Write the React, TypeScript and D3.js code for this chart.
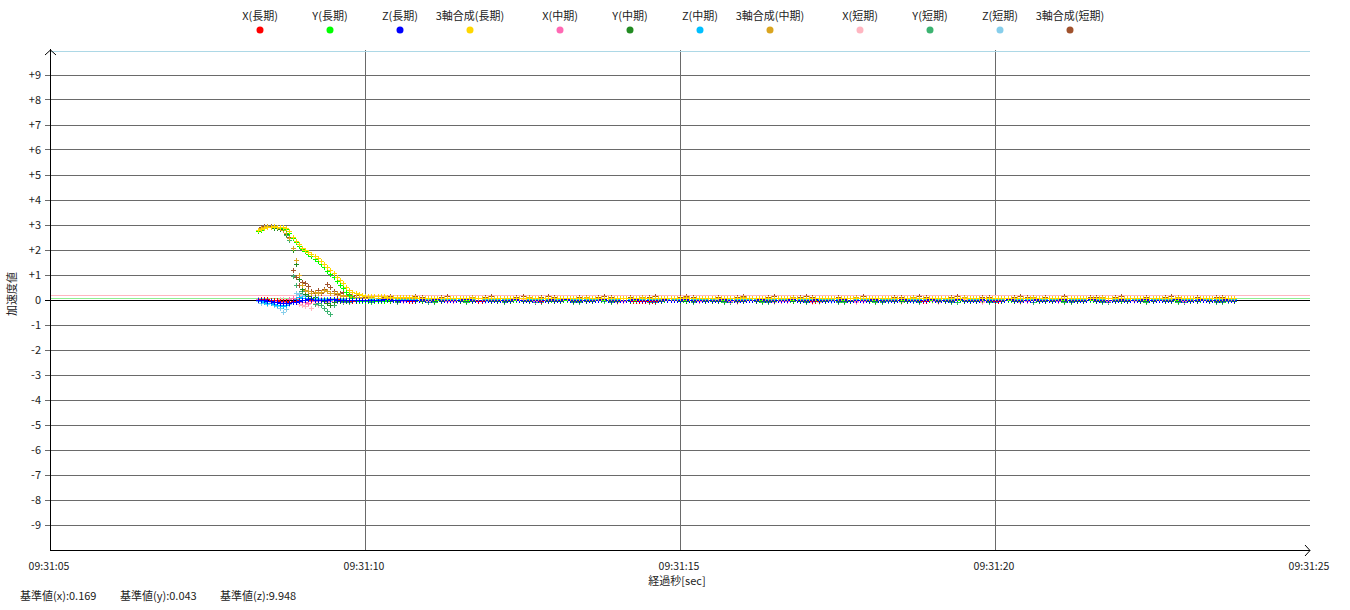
import React from 'react';
import * as d3 from 'd3';

const useD3 = (renderChart: any, dependencies: any[]) => {
  const ref = React.useRef<SVGSVGElement>(null);

  React.useEffect(() => {
    renderChart(d3.select(ref.current));
  }, dependencies);

  return ref;
};

const legendLabels = [
  'X(長期)', 'Y(長期)', 'Z(長期)', '3軸合成(長期)',
  'X(中期)', 'Y(中期)', 'Z(中期)', '3軸合成(中期)',
  'X(短期)', 'Y(短期)', 'Z(短期)', '3軸合成(短期)',
];
const seriesColors = [
  '#ff0000', '#00ff00', '#0000ff', '#ffd700',
  '#ff69b4', '#228b22', '#00bfff', '#daa520',
  '#ffb6c1', '#3cb371', '#87ceeb', '#a0522d',
];
const baseLabels = ['基準値(x)', '基準値(y)', '基準値(z)'];
const baseValues = [0.169, 0.043, 9.948];
const baseColors = ['#ffb6c1', '#90ee90', '#add8e6'];
const yTickValues = [9, 8, 7, 6, 5, 4, 3, 2, 1, 0, -1, -2, -3, -4, -5, -6, -7, -8, -9];

// seconds after 09:31:00
const headStart = 8.3;
const headStep = 0.05;
// long-term records are logged twice as often
const longTailStart = 10.05;
const longTailStep = 0.05;
const tailStart = 10.1;
const tailStep = 0.1;

// first part (onset), values in m/s2
const xLongHead = [0.02, 0.03, 0.04, 0.03, 0.02, 0.01, 0.00, -0.02, -0.04, -0.05, -0.06, -0.05, -0.03, -0.01, 0.01, 0.02, 0.03, 0.02, 0.01, 0.00, -0.01, 0.00, 0.02, 0.03, 0.04, 0.03, 0.02, 0.01, 0.00, -0.01, -0.02, -0.01, 0.00, 0.01, 0.00];
const yLongHead = [2.76, 2.82, 2.88, 2.91, 2.91, 2.92, 2.91, 2.91, 2.90, 2.85, 2.70, 2.48, 2.33, 2.18, 2.04, 1.96, 1.86, 1.76, 1.66, 1.57, 1.45, 1.32, 1.18, 1.05, 0.92, 0.78, 0.62, 0.48, 0.33, 0.20, 0.08, 0.02, -0.02, -0.03, -0.03];
const zLongHead = [0.02, 0.01, 0.00, -0.02, -0.04, -0.06, -0.08, -0.10, -0.11, -0.12, -0.11, -0.09, -0.06, -0.03, 0.00, 0.02, 0.03, 0.03, 0.02, 0.02, 0.01, 0.01, 0.02, 0.03, 0.03, 0.02, 0.02, 0.01, 0.01, 0.00, 0.00, 0.01, 0.01, 0.00, 0.00];
const cLongHead = [2.78, 2.84, 2.90, 2.93, 2.93, 2.94, 2.93, 2.93, 2.92, 2.88, 2.75, 2.52, 2.38, 2.25, 2.10, 2.02, 1.93, 1.86, 1.78, 1.70, 1.58, 1.45, 1.32, 1.20, 1.07, 0.93, 0.80, 0.66, 0.54, 0.42, 0.34, 0.27, 0.23, 0.20, 0.18];
const xMidHead = [0.03, 0.02, 0.05, 0.04, 0.00, -0.03, -0.05, -0.04, -0.06, -0.02, 0.04, 0.08, 0.05, -0.02, -0.06, -0.08, -0.10, -0.05, -0.02, 0.03, 0.06, 0.02, -0.04, -0.02, 0.03, 0.05, 0.01, -0.02, 0.00, 0.02, 0.01, 0.00, -0.01, 0.01, 0.00];
const yMidHead = [2.78, 2.86, 2.91, 2.92, 2.91, 2.90, 2.89, 2.86, 2.78, 2.65, 2.48, 2.00, 1.45, 0.85, 0.45, 0.25, 0.18, 0.10, 0.12, 0.05, 0.02, -0.05, -0.12, -0.20, -0.08, 0.02, -0.04, 0.00, -0.02, -0.03, 0.00, -0.02, -0.01, 0.00, -0.01];
const zMidHead = [0.00, -0.03, -0.06, -0.10, -0.12, -0.15, -0.18, -0.20, -0.22, -0.18, -0.12, -0.05, 0.05, 0.12, 0.10, 0.08, 0.05, 0.06, 0.03, 0.04, 0.02, 0.05, 0.03, 0.02, 0.04, 0.02, 0.01, 0.03, 0.02, 0.01, 0.01, 0.02, 0.00, 0.01, 0.00];
const cMidHead = [2.80, 2.88, 2.93, 2.94, 2.93, 2.92, 2.91, 2.89, 2.82, 2.70, 2.50, 2.10, 1.60, 1.00, 0.62, 0.42, 0.38, 0.30, 0.34, 0.28, 0.32, 0.40, 0.36, 0.30, 0.26, 0.30, 0.22, 0.18, 0.20, 0.15, 0.14, 0.12, 0.12, 0.10, 0.10];
const xShortHead = [0.05, 0.02, -0.02, -0.05, -0.08, -0.04, 0.00, 0.06, 0.03, -0.05, -0.10, -0.02, 0.08, -0.15, -0.20, -0.25, -0.15, -0.30, -0.10, -0.18, -0.05, 0.02, -0.08, 0.05, 0.00, -0.04, 0.03, -0.02, 0.01, -0.03, 0.02, 0.00, -0.02, 0.01, 0.00];
const yShortHead = [2.80, 2.90, 2.94, 2.93, 2.92, 2.91, 2.90, 2.88, 2.82, 2.62, 2.40, 0.95, 0.60, 0.30, 0.35, 0.20, 0.05, -0.05, -0.15, -0.10, -0.20, -0.30, -0.45, -0.56, -0.20, -0.05, 0.02, -0.06, 0.00, -0.08, -0.03, -0.02, 0.00, -0.04, -0.02];
const zShortHead = [-0.05, -0.12, -0.08, -0.15, -0.10, -0.20, -0.25, -0.30, -0.48, -0.35, -0.15, 0.10, 0.30, 0.25, 0.15, 0.20, 0.05, 0.10, 0.02, 0.08, 0.04, 0.00, 0.06, 0.02, 0.05, 0.01, 0.03, 0.00, 0.02, 0.01, 0.00, 0.02, 0.01, 0.00, 0.01];
const cShortHead = [2.82, 2.92, 2.96, 2.95, 2.94, 2.93, 2.92, 2.90, 2.85, 2.70, 2.52, 1.20, 0.93, 0.62, 0.72, 0.67, 0.55, 0.35, 0.28, 0.40, 0.30, 0.45, 0.63, 0.52, 0.38, 0.25, 0.30, 0.33, 0.18, 0.25, 0.15, 0.20, 0.12, 0.10, 0.12];

// rest of the record, values in 1/100 m/s2
const xLongTail = [
  -2, -2, -1, -1, -1, 0, 0, 0, 1, 0, 0, -1, -1, -2, -2, -1, -1, 0, 0, 1,
  1, 1, 0, 0, -1, -1, -1, 0, 0, 1, 1, 0, 0, -1, -1, -2, -2, -1, 0, 0,
  1, 1, 1, 0, 0, -1, -1, 0, 0, 1, 1, 0, 0, -1, -1, -2, -1, -1, 0, 0,
  1, 0, 0, 0, -1, -1, 0, 0, 1, 1, 1, 0, 0, -1, -1, -1, 0, 0, 1, 1,
  0, 0, -1, -1, -2, -3, -3, -4, -4, -3, -3, -2, -1, 0, 0, 1, 1, 0, 0, -1,
  -1, 0, 0, 1, 1, 1, 0, 0, -1, -1, 0, 0, 1, 1, 0, 0, -1, -1, -1, 0,
  0, 1, 1, 0, 0, -1, -1, 0, 0, 0, -1, -1, 0, 0, 1, 1, 1, 0, 0, -1,
  -1, -2, -2, -1, -1, 0, 0, 1, 1, 0, 0, -1, 0, 0, 1, 1, 0, 0, -1, -1,
  0, 0, 0, 1, 0, 0, -1, -1, 0, 0, 1, 1, 0, 0, -1, -1, -2, -2, -1, 0,
  0, 1, 1, 0, 0, 0, 1, 0, 0, -1, -1, 0, 0, 1, 1, 0, 0, -1, -1, -2,
  -2, -1, -1, 0, 0, 1, 1, 0, 0, -1, -1, 0, 0, 1, 1, 1, 0, 0, -1, -1,
  0, 0, 1, 1, 0, 0, -1, -1, -1, 0, 0, 1, 1, 0, 0, -1, -1, 0, 0, 1,
  1, 0, 0, -1, -1, 0, 0, 1, 1, 0, 0, -1, -1, 0, 0, 1, 1, 0, 0, -1,
  -1, 0, 0, 1, 1, 0, 0, -1, -1, 0, 0, 1, 1, 0, 0, -1,
];
const yLongTail = [
  -3, -3, -3, -2, -2, -2, -1, -1, -1, 0, 0, -1, -1, 0, 0, 0, -1, 0, 0, 0,
  -1, -1, 0, 0, 1, 1, 0, 0, -1, -1, 0, 0, 1, 1, 0, 0, -1, -1, 0, 0,
  0, -1, -1, 0, 0, 1, 1, 0, 0, -1, -1, 0, 0, 0, 1, 1, 0, 0, -1, -1,
  -1, 0, 0, 0, 1, 1, 0, 0, -1, -1, 0, 0, 1, 0, 0, -1, -1, 0, 0, 1,
  1, 0, 0, -1, -1, 0, 0, 0, 1, 1, 0, 0, -1, -1, 0, 0, 1, 1, 0, 0,
  0, -1, -1, 0, 0, 1, 1, 0, 0, 0, -1, -1, 0, 0, 1, 0, 0, -1, -1, 0,
  0, 1, 1, 0, 0, -1, -1, 0, 0, 0, 1, 1, 0, 0, -1, -1, 0, 0, 1, 1,
  0, 0, -1, -1, 0, 0, 1, 1, 0, 0, 0, -1, -1, 0, 0, 1, 1, 0, 0, -1,
  -1, 0, 0, 1, 1, 2, 2, 1, 1, 0, 0, -1, -1, 0, 0, 1, 1, 0, 0, 0,
  -1, -1, 0, 0, 1, 1, 0, 0, -1, -1, 0, 0, 1, 1, 0, 0, 0, -1, -1, 0,
  0, 1, 1, 0, 0, -1, -1, 0, 0, 1, 1, 0, 0, 0, -1, -1, 0, 0, 1, 1,
  0, 0, -1, -1, 0, 0, 1, 1, 0, 0, -1, -1, 0, 0, 0, 1, 1, 0, 0, -1,
  -1, 0, 0, 1, 1, 0, 0, -1, -1, 0, 0, 1, 1, 0, 0, 0, -1, -1, 0, 0,
  1, 1, 0, 0, -1, -1, 0, 0, 1, 1, 0, 0, -1, -1, 0, 0,
];
const zLongTail = [
  1, 1, 2, 2, 2, 3, 3, 3, 2, 2, 2, 1, 1, 1, 2, 2, 2, 3, 2, 2,
  2, 3, 3, 2, 2, 1, 1, 1, 2, 2, 3, 3, 3, 2, 2, 1, 1, 1, 2, 2,
  1, 2, 2, 2, 1, 2, 3, 3, 2, 2, 2, 2, 1, 1, 1, 2, 2, 2, 3, 2,
  2, 2, 3, 3, 2, 2, 1, 1, 2, 2, 2, 1, 1, 2, 3, 3, 2, 2, 2, 1,
  1, 1, 2, 2, 3, 3, 2, 2, 2, 1, 1, 1, 2, 2, 3, 2, 2, 2, 1, 2,
  3, 3, 2, 2, 2, 1, 1, 1, 2, 2, 2, 2, 3, 3, 2, 1, 1, 2, 2, 2,
  2, 1, 1, 2, 3, 3, 2, 2, 2, 2, 1, 1, 2, 2, 3, 3, 2, 2, 1, 1,
  2, 2, 3, 2, 2, 1, 1, 2, 2, 2, 3, 3, 2, 2, 1, 1, 2, 2, 2, 2,
  3, 3, 2, 2, 1, 1, 2, 2, 2, 3, 3, 2, 2, 1, 1, 1, 2, 2, 3, 3,
  2, 2, 2, 1, 1, 2, 2, 3, 3, 2, 2, 1, 2, 2, 2, 3, 2, 2, 1, 1,
  2, 2, 2, 3, 3, 2, 1, 1, 2, 2, 2, 2, 3, 2, 2, 1, 1, 2, 2, 2,
  3, 3, 2, 2, 1, 1, 2, 2, 2, 3, 3, 2, 2, 1, 1, 2, 2, 2, 2, 3,
  2, 2, 1, 1, 2, 2, 3, 3, 2, 2, 1, 1, 2, 2, 2, 2, 3, 3, 2, 1,
  1, 2, 2, 2, 3, 2, 2, 1, 1, 2, 2, 2, 3, 2, 2, 1,
];
const cLongTail = [
  17, 17, 16, 16, 15, 15, 14, 14, 13, 13, 12, 12, 12, 11, 11, 11, 10, 10, 10, 10,
  9, 9, 10, 10, 9, 9, 8, 9, 9, 8, 8, 9, 8, 8, 9, 9, 8, 8, 7, 8,
  8, 9, 8, 8, 8, 7, 8, 8, 7, 8, 9, 9, 8, 8, 7, 7, 8, 8, 8, 7,
  8, 7, 8, 8, 9, 8, 7, 7, 8, 8, 8, 9, 8, 8, 7, 8, 8, 7, 7, 8,
  7, 8, 8, 7, 8, 8, 7, 8, 8, 7, 7, 8, 8, 9, 8, 7, 8, 8, 7, 8,
  8, 7, 7, 8, 7, 8, 8, 9, 8, 7, 7, 8, 8, 7, 8, 8, 7, 8, 8, 8,
  7, 8, 8, 7, 7, 8, 7, 8, 8, 9, 8, 7, 8, 8, 8, 8, 7, 7, 8, 7,
  8, 8, 7, 8, 8, 8, 9, 8, 8, 7, 7, 8, 8, 7, 8, 7, 8, 8, 9, 8,
  7, 7, 8, 8, 7, 8, 7, 8, 7, 7, 8, 8, 8, 9, 8, 7, 8, 8, 7, 7,
  8, 8, 9, 8, 7, 7, 8, 8, 7, 8, 8, 8, 9, 8, 8, 8, 7, 7, 8, 8,
  7, 8, 8, 8, 8, 7, 7, 8, 8, 8, 7, 7, 8, 9, 8, 8, 7, 8, 8, 8,
  8, 8, 7, 7, 8, 9, 8, 8, 7, 8, 8, 8, 7, 7, 8, 8, 8, 9, 7, 7,
  7, 8, 8, 8, 7, 7, 8, 8, 9, 8, 7, 8, 8, 8, 7, 7, 8, 8, 8, 9,
  7, 8, 8, 8, 9, 8, 7, 7, 8, 8, 7, 8, 8, 9, 8, 8,
];
const xMidTail = [-2, 0, 2, 1, -1, -3, -2, 0, 1, 2, 0, -2, -4, -3, -1, 1, 2, 1, -1, -3, -2, 0, 2, 3, 1, -1, -3, -2, 0, 1, 2, 0, -2, -3, -1, 1, 2, 0, -2, -4, -3, -1, 1, 2, 1, -1, -2, 0, 2, 1, -1, -3, -2, 0, 1, 2, 0, -2, -3, -1, 1, 2, 1, -1, -3, -4, -2, 0, 1, 2, 0, -2, -1, 1, 2, 1, -1, -3, -2, 0, 1, 2, 0, -2, -4, -3, -1, 1, 2, 1, -1, -2, 0, 2, 1, -1, -3, -2, 0, 1, 2, 1, -1, -3, -2, 0, 1, 2, 0, -2, -3, -1, 1, 2, 1, -1, -3, -2, 0, 1, 2, 0, -2, -3, -1, 1, 2, 1, -1, -2, 0, 1, 2, 0, -2, -3, -1, 1];
const yMidTail = [-3, -2, -4, -3, -2, -1, -3, -4, -2, -1, -2, -3, -1, 0, -2, -4, -3, -1, 0, -2, -3, -4, -2, -1, -3, -2, 0, -1, -3, -4, -2, -1, -2, -3, -4, -2, 0, -1, -3, -2, -1, -3, -4, -2, -1, -2, -3, -1, 0, -2, -4, -3, -1, -2, -3, -4, -2, -1, -3, -2, -1, -2, -4, -3, -2, 0, -1, -3, -4, -2, -1, -2, -3, -1, -2, -4, -3, -1, 0, -2, -3, -2, -1, -3, -4, -2, -1, -2, -3, -1, -2, -4, -3, -1, -2, -3, -2, -1, -3, -4, -2, -1, -2, -3, -1, 0, -2, -4, -3, -1, -2, -3, -4, -2, -1, -3, -2, -1, -2, -4, -3, -1, -2, -3, -2, -1, -3, -4, -2, -1, -2, -3, -1, -2, -4, -3, -1, -2];
const zMidTail = [4, 3, 5, 4, 3, 4, 5, 3, 2, 4, 5, 4, 3, 4, 5, 4, 3, 2, 4, 5, 3, 4, 5, 4, 2, 3, 4, 5, 4, 3, 4, 5, 3, 4, 4, 3, 5, 4, 3, 4, 2, 4, 5, 4, 3, 4, 5, 3, 4, 4, 3, 5, 4, 3, 4, 2, 3, 5, 4, 4, 5, 4, 3, 4, 5, 3, 4, 4, 3, 5, 4, 3, 4, 5, 4, 3, 2, 4, 5, 4, 3, 4, 5, 3, 4, 4, 5, 3, 4, 3, 4, 5, 4, 3, 2, 4, 5, 4, 3, 4, 5, 3, 4, 4, 3, 5, 4, 3, 4, 5, 4, 3, 4, 5, 3, 4, 4, 2, 3, 5, 4, 4, 3, 5, 4, 3, 4, 5, 4, 3, 4, 5, 3, 4, 4, 3, 5, 4];
const cMidTail = [11, 10, 10, 9, 9, 10, 9, 8, 9, 10, 8, 9, 10, 8, 7, 9, 11, 10, 8, 9, 9, 8, 7, 9, 10, 11, 10, 8, 7, 9, 10, 9, 8, 9, 11, 9, 8, 7, 8, 10, 9, 8, 10, 11, 10, 9, 8, 8, 9, 10, 11, 9, 8, 7, 9, 10, 9, 8, 10, 11, 9, 8, 9, 10, 8, 7, 9, 11, 10, 8, 9, 10, 9, 8, 7, 9, 10, 11, 9, 8, 8, 9, 10, 9, 8, 10, 11, 9, 8, 7, 9, 10, 8, 9, 11, 10, 8, 7, 9, 10, 10, 9, 8, 9, 10, 11, 9, 8, 9, 8, 7, 9, 10, 9, 8, 10, 11, 9, 8, 9, 10, 8, 7, 9, 10, 9, 8, 10, 11, 9, 8, 9, 10, 8, 9, 10, 9, 8];
const xShortTail = [-4, 2, 5, -1, -6, -3, 3, 6, 0, -5, -7, -2, 4, 5, -2, -6, -4, 2, 6, 1, -3, -7, -5, 1, 5, 3, -2, -6, -2, 4, 6, 0, -5, -7, -3, 2, 5, 2, -4, -6, -1, 4, 6, 1, -4, -7, -4, 1, 5, 3, -2, -6, -5, 0, 5, 4, -1, -5, -7, -3, 2, 6, 3, -3, -6, -5, 1, 5, 4, -2, -6, -7, -2, 3, 6, 2, -3, -6, -4, 1, 5, 4, -1, -5, -7, -3, 2, 6, 3, -2, -6, -5, 0, 4, 5, 0, -4, -7, -4, 2, 6, 3, -2, -6, -5, 0, 5, 4, -1, -5, -7, -3, 2, 5, 3, -3, -6, -4, 1, 5, 4, -2, -5, -7, -2, 3, 6, 2, -4, -6, -3, 2, 5, 3, -2, -6, -4, 1];
const yShortTail = [-6, -2, 2, -3, -7, -4, 1, 3, -2, -6, -8, -3, 1, 2, -3, -7, -5, 0, 3, -1, -5, -8, -4, 0, 2, -2, -6, -7, -2, 1, 3, -1, -6, -8, -3, 0, 2, -3, -6, -5, -1, 2, 3, -2, -6, -8, -4, 0, 2, -1, -5, -7, -3, 1, 3, -1, -6, -8, -4, 0, 2, -2, -6, -7, -3, 1, 3, -2, -5, -8, -4, 0, 2, -1, -6, -7, -3, 1, 2, -2, -6, -8, -4, 0, 3, -1, -5, -7, -3, 1, 2, -3, -6, -8, -2, 1, 3, -2, -6, -7, -3, 0, 2, -1, -5, -8, -4, 1, 3, -2, -6, -7, -3, 0, 2, -2, -6, -8, -4, 1, 3, -1, -5, -7, -3, 0, 2, -2, -6, -8, -4, 1, 2, -1, -6, -7, -3, 0];
const zShortTail = [6, 2, -1, 3, 7, 5, 0, -2, 3, 6, 8, 4, -1, 0, 4, 7, 5, 1, -2, 2, 6, 8, 3, 0, -1, 4, 7, 6, 1, -2, 3, 7, 8, 2, -1, 1, 5, 7, 4, 0, -2, 3, 6, 8, 3, 0, -1, 4, 7, 5, 1, -2, 2, 6, 8, 4, -1, 0, 4, 7, 6, 1, -2, 3, 7, 8, 3, -1, 1, 5, 7, 4, 0, -2, 3, 6, 8, 3, 0, -1, 4, 7, 6, 1, -2, 2, 6, 8, 4, -1, 0, 5, 7, 5, 0, -2, 3, 7, 8, 2, -1, 1, 5, 7, 4, 0, -2, 3, 6, 8, 3, 0, -1, 4, 7, 5, 1, -2, 2, 6, 8, 4, -1, 0, 4, 7, 6, 1, -2, 3, 7, 8, 3, -1, 1, 5, 7, 4];
const cShortTail = [13, 9, 12, 15, 10, 8, 13, 16, 11, 9, 8, 14, 15, 10, 7, 9, 13, 8, 12, 16, 10, 8, 7, 13, 15, 9, 8, 11, 15, 12, 8, 7, 10, 14, 9, 8, 13, 16, 11, 7, 9, 12, 8, 7, 14, 15, 9, 8, 10, 13, 15, 11, 8, 7, 9, 13, 10, 8, 12, 16, 9, 8, 7, 11, 15, 10, 8, 9, 13, 15, 11, 7, 8, 10, 14, 9, 8, 12, 15, 10, 8, 7, 9, 13, 11, 8, 10, 15, 12, 8, 7, 9, 13, 16, 10, 8, 8, 11, 14, 9, 8, 10, 13, 16, 11, 7, 9, 12, 8, 10, 15, 9, 8, 7, 11, 14, 10, 8, 13, 15, 10, 8, 9, 12, 8, 7, 13, 15, 9, 8, 10, 13, 9, 7, 11, 14, 10, 8];

const heads = [xLongHead, yLongHead, zLongHead, cLongHead, xMidHead, yMidHead, zMidHead, cMidHead, xShortHead, yShortHead, zShortHead, cShortHead];
const tails = [xLongTail, yLongTail, zLongTail, cLongTail, xMidTail, yMidTail, zMidTail, cMidTail, xShortTail, yShortTail, zShortTail, cShortTail];

// short-term drawn first, long-term on top
const drawOrder = [8, 9, 10, 11, 4, 5, 6, 7, 0, 1, 2, 3];

const t0 = new Date(2024, 0, 1, 9, 31, 0);
const at = (sec: number) => new Date(t0.getTime() + Math.round(sec * 1000));

const FONT = '"Noto Sans CJK JP", "Noto Sans", sans-serif';

const renderChart = (svg: any) => {
  svg.selectAll('*').remove();
  const left = 50;
  const right = 1310;
  const top = 50;
  const bottom = 550;

  const xScale = d3.scaleTime().domain([at(5), at(25)]).range([left, right]);
  const yScale = d3.scaleLinear().domain([-10, 10]).range([bottom, top]);
  const crisp = (v: number) => Math.floor(v) + 0.5;

  // legend
  const legend = svg.append('g');
  legendLabels.forEach((label, i) => {
    const cx = 260 + i * 70 + Math.floor(i / 4) * 20;
    legend.append('text')
      .attr('x', cx).attr('y', 20)
      .attr('text-anchor', 'middle')
      .attr('font-size', 11).attr('font-family', FONT).attr('fill', '#222')
      .text(label);
    legend.append('circle')
      .attr('cx', cx).attr('cy', 30).attr('r', 3.5)
      .attr('fill', seriesColors[i]);
  });

  // horizontal grid + y ticks
  const grid = svg.append('g').attr('shape-rendering', 'crispEdges');
  yTickValues.filter(v => v !== 0).forEach(v => {
    grid.append('line')
      .attr('x1', left - 5).attr('x2', right)
      .attr('y1', crisp(yScale(v))).attr('y2', crisp(yScale(v)))
      .attr('stroke', '#6a6a6a');
  });
  xScale.ticks(d3.timeSecond.every(5)).filter((d: Date) => +d > +at(5) && +d < +at(25)).forEach((d: Date) => {
    grid.append('line')
      .attr('x1', crisp(xScale(d))).attr('x2', crisp(xScale(d)))
      .attr('y1', top).attr('y2', bottom)
      .attr('stroke', '#6a6a6a');
  });
  grid.append('line')
    .attr('x1', left - 5).attr('x2', right)
    .attr('y1', crisp(yScale(0))).attr('y2', crisp(yScale(0)))
    .attr('stroke', '#000');

  // baselines
  baseValues.forEach((v, i) => {
    grid.append('line')
      .attr('x1', left).attr('x2', right)
      .attr('y1', crisp(yScale(v))).attr('y2', crisp(yScale(v)))
      .attr('stroke', baseColors[i]);
  });

  svg.append('g').selectAll('text')
    .data(yTickValues)
    .join('text')
    .attr('x', 41)
    .attr('y', (d: number) => yScale(d) + 4)
    .attr('text-anchor', 'end')
    .attr('font-size', 11).attr('font-family', FONT).attr('fill', '#222')
    .text((d: number) => (d > 0 ? `+${d}` : `${d}`));

  // data
  const plot = svg.append('g').attr('shape-rendering', 'crispEdges');
  drawOrder.forEach(si => {
    const isLong = si < 4;
    const start = isLong ? longTailStart : tailStart;
    const step = isLong ? longTailStep : tailStep;
    const pts = [
      ...heads[si].map((v, i) => ({ t: at(headStart + i * headStep), v })),
      ...tails[si].map((v, i) => ({ t: at(start + i * step), v: v / 100 })),
    ];
    const d = pts.map(p => {
      const px = Math.round(xScale(p.t));
      const py = Math.round(yScale(p.v));
      return `M${px - 2},${py + 0.5}H${px + 3}M${px + 0.5},${py - 2}V${py + 3}`;
    }).join('');
    plot.append('path')
      .attr('d', d)
      .attr('fill', 'none')
      .attr('stroke', seriesColors[si])
      .attr('stroke-width', 1);
  });

  // axes
  const axes = svg.append('g').attr('stroke', '#000').attr('fill', 'none');
  axes.append('line')
    .attr('x1', crisp(left)).attr('x2', crisp(left))
    .attr('y1', top - 1).attr('y2', bottom + 1)
    .attr('shape-rendering', 'crispEdges');
  axes.append('line')
    .attr('x1', left).attr('x2', right)
    .attr('y1', crisp(bottom)).attr('y2', crisp(bottom))
    .attr('shape-rendering', 'crispEdges');
  axes.append('path')
    .attr('d', `M${left - 5},${top + 5}L${crisp(left)},${top}L${left + 6},${top + 5}`);
  axes.append('path')
    .attr('d', `M${right - 5},${bottom - 5}L${right},${crisp(bottom)}L${right - 5},${bottom + 6}`);

  // x tick labels
  const fmt = d3.timeFormat('%H:%M:%S');
  svg.append('g').selectAll('text')
    .data(xScale.ticks(d3.timeSecond.every(5)))
    .join('text')
    .attr('x', (d: Date) => xScale(d) - 1)
    .attr('y', 570)
    .attr('text-anchor', 'middle')
    .attr('font-size', 10.5).attr('font-family', FONT).attr('fill', '#222')
    .text((d: Date) => fmt(d));

  svg.append('text')
    .attr('x', 677).attr('y', 585)
    .attr('text-anchor', 'middle')
    .attr('font-size', 11).attr('font-family', FONT).attr('fill', '#222')
    .text('経過秒[sec]');

  svg.append('text')
    .attr('transform', 'translate(16,294) rotate(-90)')
    .attr('text-anchor', 'middle')
    .attr('font-size', 11).attr('font-family', FONT).attr('fill', '#222')
    .text('加速度値');

  baseLabels.forEach((label, i) => {
    svg.append('text')
      .attr('x', 20 + i * 100).attr('y', 600)
      .attr('font-size', 11).attr('font-family', FONT).attr('fill', '#222')
      .text(`${label}:${baseValues[i].toFixed(3)}`);
  });
};

const App: React.FC = () => {
  const ref = useD3(renderChart, []);

  React.useEffect(() => {
    document.body.style.margin = '0';
    document.body.style.overflow = 'hidden';
  }, []);

  return (
    <svg
      ref={ref}
      width={1350}
      height={610}
      style={{ display: 'block', background: '#fff' }}
    />
  );
};

export default App;
